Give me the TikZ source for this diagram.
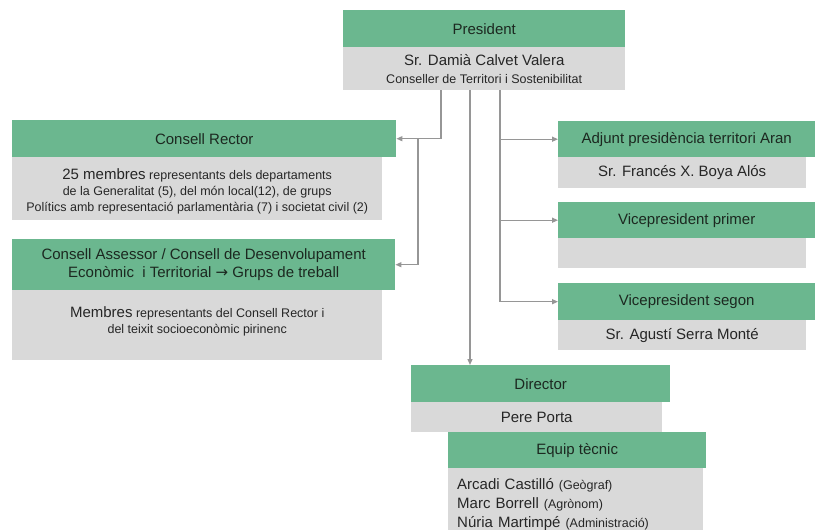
\documentclass[tikz,border=0pt]{standalone}
\usepackage{fontspec}
\setmainfont{Liberation Sans}
\newfontfamily\arrowfont{DejaVu Sans}
\usetikzlibrary{arrows.meta}

\definecolor{hgreen}{RGB}{107,183,143}
\definecolor{bgrey}{RGB}{217,217,217}
\definecolor{linegrey}{RGB}{150,150,150}
\definecolor{headtxt}{RGB}{28,40,32}
\definecolor{bodytxt}{RGB}{38,38,38}

\newcommand{\bigtxt}{\fontsize{15}{18}\selectfont}
\newcommand{\smalltxt}{\fontsize{12.5}{15.5}\selectfont}

\begin{document}
\begin{tikzpicture}[x=1pt,y=-1pt,
    head/.style={fill=hgreen, text=headtxt, inner sep=0pt, anchor=north west, align=center, font=\bigtxt},
    body/.style={fill=bgrey, text=bodytxt, inner sep=0pt, anchor=north west, align=center, font=\bigtxt},
    link/.style={draw=linegrey, line width=1.3pt, -{Triangle[length=6pt,width=5pt]}}]
        \useasboundingbox (0,0) rectangle (815,530);

        % president
        \node[head, minimum width=282pt, minimum height=37pt] (pres) at (343,10) {President};
        \node[body, minimum width=282pt, minimum height=43pt] (presb) at (343,47)
            {Sr. Damià Calvet Valera\\ {\smalltxt Conseller de Territori i Sostenibilitat}};

        % left side
        \node[head, minimum width=384pt, minimum height=37pt] (rector) at (12,120) {Consell Rector};
        \node[body, minimum width=370pt, minimum height=63pt, font=\fontsize{12.5}{16}\selectfont] (rectorb) at (12,157)
            {\rule{0pt}{17pt}{\bigtxt 25 membres} representants dels departaments\\
             de la Generalitat (5), del món local(12), de grups\\
             Polítics amb representació parlamentària (7) i societat civil (2)};

        \node[head, minimum width=383pt, minimum height=51pt] (assessor) at (12,239)
            {Consell Assessor / Consell de Desenvolupament\\ Econòmic\ \ i Territorial {\arrowfont →} Grups de treball};
        \node[body, minimum width=370pt, minimum height=70pt, font=\smalltxt] (assessorb) at (12,290)
            {{\bigtxt Membres} representants del Consell Rector i\\ del teixit socioeconòmic pirinenc\\[-5pt]};

        % right side
        \node[head, minimum width=257pt, minimum height=36pt] (adjunt) at (558,121) {Adjunt presidència territori Aran};
        \node[body, minimum width=248pt, minimum height=31pt] (adjuntb) at (558,157) {Sr. Francés X. Boya Alós};

        \node[head, minimum width=257pt, minimum height=36pt] (vp1) at (558,202) {Vicepresident primer};
        \node[body, minimum width=248pt, minimum height=30pt] (vp1b) at (558,238) {};

        \node[head, minimum width=257pt, minimum height=37pt] (vp2) at (558,283) {Vicepresident segon};
        \node[body, minimum width=248pt, minimum height=30pt] (vp2b) at (558,320) {Sr. Agustí Serra Monté};

        % director
        \node[head, minimum width=259pt, minimum height=37pt] (dir) at (411,365) {Director};
        \node[body, minimum width=251pt, minimum height=30pt] (dirb) at (411,402) {Pere Porta};

        \node[head, minimum width=258pt, minimum height=36pt] (equip) at (448,432) {Equip tècnic};
        \node[body, minimum width=255pt, minimum height=72pt, align=left, text width=237pt,
            inner xsep=9pt, font=\fontsize{15}{19}\selectfont] (equipb) at (448,468)
            {Arcadi Castilló {\smalltxt(Geògraf)}\\ Marc Borrell {\smalltxt(Agrònom)}\\ Núria Martimpé {\smalltxt(Administració)}};

        % links
        \draw[link] (presb.south -| 441,0) |- (rector.east);
        \draw[link] (rector.east -| 418,0) |- (assessor.east);
        \draw[link] (presb.south -| 470,0) -- (dir.north -| 470,0);
        \draw[link] (presb.south -| 500,0) |- (adjunt.west);
        \draw[link] (presb.south -| 500,0) |- (vp1.west);
        \draw[link] (presb.south -| 500,0) |- (vp2.west);

    \end{tikzpicture}
\end{document}
